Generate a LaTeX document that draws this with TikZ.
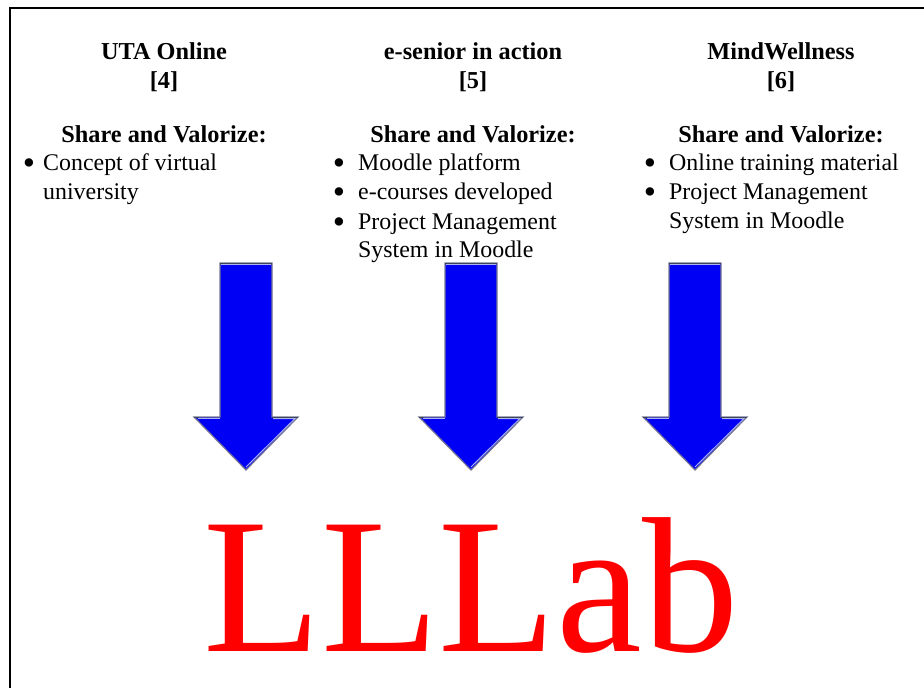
\documentclass[tikz,border=0pt]{standalone}
\usepackage{fontspec}
\setmainfont{Liberation Serif}
\definecolor{arrowblue}{RGB}{0,0,245}
\definecolor{arrowedge}{RGB}{120,120,150}
\definecolor{arrowdark}{RGB}{60,70,90}
\definecolor{arrowlight}{RGB}{175,180,235}
\tikzset{
  x=1pt,y=-1pt,
  body/.style={anchor=base west,inner sep=0pt,font=\fontsize{23.9}{28}\selectfont},
  dot/.style={anchor=base,inner sep=0pt,font=\fontsize{35}{28}\selectfont},
  head/.style={anchor=base,inner sep=0pt,font=\fontsize{24.3}{28}\selectfont\bfseries},
  fatarrow/.style={fill=arrowblue,draw=arrowedge,line width=1.2pt,line join=miter},
  arrowshade/.style={draw=arrowdark,line width=1pt},
  arrowlit/.style={draw=arrowlight,line width=1pt},
}
\newcommand{\fatarrow}[1]{%
  \draw[fatarrow] (#1-26,263) -- (#1+26,263) -- (#1+26,417) -- (#1+52,417) -- (#1,470) -- (#1-52,417) -- (#1-26,417) -- cycle;
  \draw[arrowshade] (#1-26,263) -- (#1+26,263);
  \draw[arrowshade] (#1-52,417) -- (#1-47,417);
  \draw[arrowshade] (#1+26,417) -- (#1+52,417);
  \draw[arrowlit] (#1-25,264.5) -- (#1+25,264.5);
  \draw[arrowlit] (#1-48,418.5) -- (#1-26,418.5);
  \draw[arrowlit] (#1+27,418.5) -- (#1+49,418.5) -- (#1,467);
}
\begin{document}
\begin{tikzpicture}
\useasboundingbox (0,0) rectangle (924,688);
\fill[white] (0,0) rectangle (924,688);
\draw[line width=2pt] (10,688) -- (10,8) -- (924,8);
\fatarrow{246}
\fatarrow{471}
\fatarrow{695}
% column 1
\node[head] (t1) at (164,59) {UTA Online};
\node[head] (r1) at (164,88) {[4]};
\node[head] (s1) at (164,142) {Share and Valorize:};
\node[dot] (b1a) at (29,174) {•};
\node[body] (i1a) at (43,170) {Concept of virtual};
\node[body] (i1b) at (43,199) {university};
% column 2
\node[head] (t2) at (473,59) {e-senior in action};
\node[head] (r2) at (473,88) {[5]};
\node[head] (s2) at (473,142) {Share and Valorize:};
\node[dot] (b2a) at (339,174) {•};
\node[body] (i2a) at (358,170) {Moodle platform};
\node[dot] (b2b) at (339,203) {•};
\node[body] (i2b) at (358,199) {e-courses developed};
\node[dot] (b2c) at (339,233) {•};
\node[body] (i2c) at (358,229) {Project Management};
\node[body] (i2d) at (358,257) {System in Moodle};
% column 3
\node[head] (t3) at (781,59) {MindWellness};
\node[head] (r3) at (781,88) {[6]};
\node[head] (s3) at (781,142) {Share and Valorize:};
\node[dot] (b3a) at (650,174) {•};
\node[body] (i3a) at (669,170) {Online training material};
\node[dot] (b3b) at (650,203) {•};
\node[body] (i3b) at (669,199) {Project Management};
\node[body] (i3c) at (669,228) {System in Moodle};
% title
\node[anchor=base,inner sep=0pt,text=red,font=\fontsize{193}{193}\selectfont] (lab) at (471,651) {LLLab};
\end{tikzpicture}
\end{document}
